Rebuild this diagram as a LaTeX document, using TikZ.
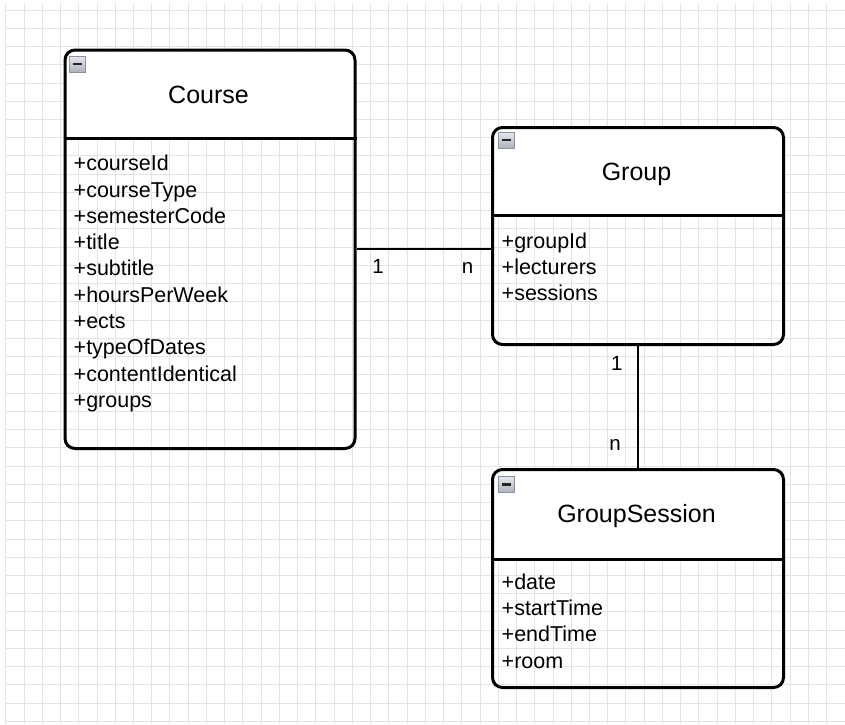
\documentclass[tikz,border=0pt]{standalone}
\usepackage{fontspec}
\setmainfont{Liberation Sans}
\usetikzlibrary{calc}
\definecolor{gridgray}{HTML}{E4E4E4}
\definecolor{iconborder}{HTML}{8A92A2}
\definecolor{icontop}{HTML}{E6E8EC}
\definecolor{iconbottom}{HTML}{AEB2BA}
\begin{document}
\begin{tikzpicture}[x=1pt,y=-1pt,
  gridline/.style={draw=gridgray, line width=0.9pt},
  classbox/.style={draw=black, line width=3pt, rounded corners=10pt, anchor=north west, inner sep=0pt},
  titletext/.style={font=\fontsize{25}{30}\selectfont, anchor=base, inner sep=0pt},
  attrtext/.style={font=\fontsize{21.5}{26.3}\selectfont, align=left, anchor=base west, inner sep=0pt},
  multtext/.style={font=\fontsize{20.5}{24}\selectfont, anchor=base, inner sep=0pt},
  conn/.style={draw=black, line width=2pt},
  divider/.style={draw=black, line width=3pt},
  iconbox/.style={draw=iconborder, line width=1pt, top color=icontop, bottom color=iconbottom,
    minimum size=16pt, inner sep=0pt,
    path picture={\draw[line width=2.6pt, black!85]
      ($(path picture bounding box.west)+(3.5pt,0pt)$) -- ($(path picture bounding box.east)+(-3.5pt,0pt)$);}}
]
\useasboundingbox (0,0) rectangle (845,724);
\fill[white] (0,0) rectangle (845,724);
% grid
\foreach \k in {0,...,45} {\draw[gridline] (5.76+18.24*\k,3) -- (5.76+18.24*\k,724);}
\foreach \k in {0,...,39} {\draw[gridline] (6,10+18.24*\k) -- (845,10+18.24*\k);}
% header fills
\begin{scope}\clip (63.5,48.5) rectangle (353.5,138.5);
  \fill[white, rounded corners=10pt] (63.5,48.5) rectangle (353.5,200);\end{scope}
\begin{scope}\clip (491,126) rectangle (782,215);
  \fill[white, rounded corners=10pt] (491,126) rectangle (782,280);\end{scope}
\begin{scope}\clip (491,468) rectangle (782,559);
  \fill[white, rounded corners=10pt] (491,468) rectangle (782,620);\end{scope}
% class boxes
\node[classbox, minimum width=290pt, minimum height=398.5pt] (course) at (63.5,48.5) {};
\node[classbox, minimum width=291pt, minimum height=217pt] (group) at (491,126) {};
\node[classbox, minimum width=291pt, minimum height=218pt] (gsession) at (491,468) {};
\draw[divider] ($(course.north west)+(0,90)$) -- ($(course.north east)+(0,90)$);
\draw[divider] ($(group.north west)+(0,89)$) -- ($(group.north east)+(0,89)$);
\draw[divider] ($(gsession.north west)+(0,91)$) -- ($(gsession.north east)+(0,91)$);
% collapse icons
\node[iconbox] (courseicon) at (77,64) {};
\node[iconbox] (groupicon) at (506,140) {};
\node[iconbox] (gsessionicon) at (506.5,484.5) {};
% titles
\node[titletext] (coursetitle) at (208.5,103) {Course};
\node[titletext] (grouptitle) at (636.5,180.5) {Group};
\node[titletext] (gsessiontitle) at (636.5,522.7) {GroupSession};
% attributes (base anchor = baseline of the last line)
\node[attrtext] (courseattr) at (73.5,407.4) {+courseId\\+courseType\\+semesterCode\\+title\\+subtitle\\+hoursPerWeek\\+ects\\+typeOfDates\\+contentIdentical\\+groups};
\node[attrtext] (groupattr) at (501.5,300.6) {+groupId\\+lecturers\\+sessions};
\node[attrtext] (gsessionattr) at (501.5,668.2) {+date\\+startTime\\+endTime\\+room};
% connectors
\draw[conn] (course.east) -- (course.east -| group.west);
\draw[conn] (group.south) -- (gsession.north);
% multiplicities
\node[multtext] (m1) at (378,273.5) {1};
\node[multtext] (m2) at (467.5,273.5) {n};
\node[multtext] (m3) at (616.7,370) {1};
\node[multtext] (m4) at (615,450) {n};
\end{tikzpicture}
\end{document}
